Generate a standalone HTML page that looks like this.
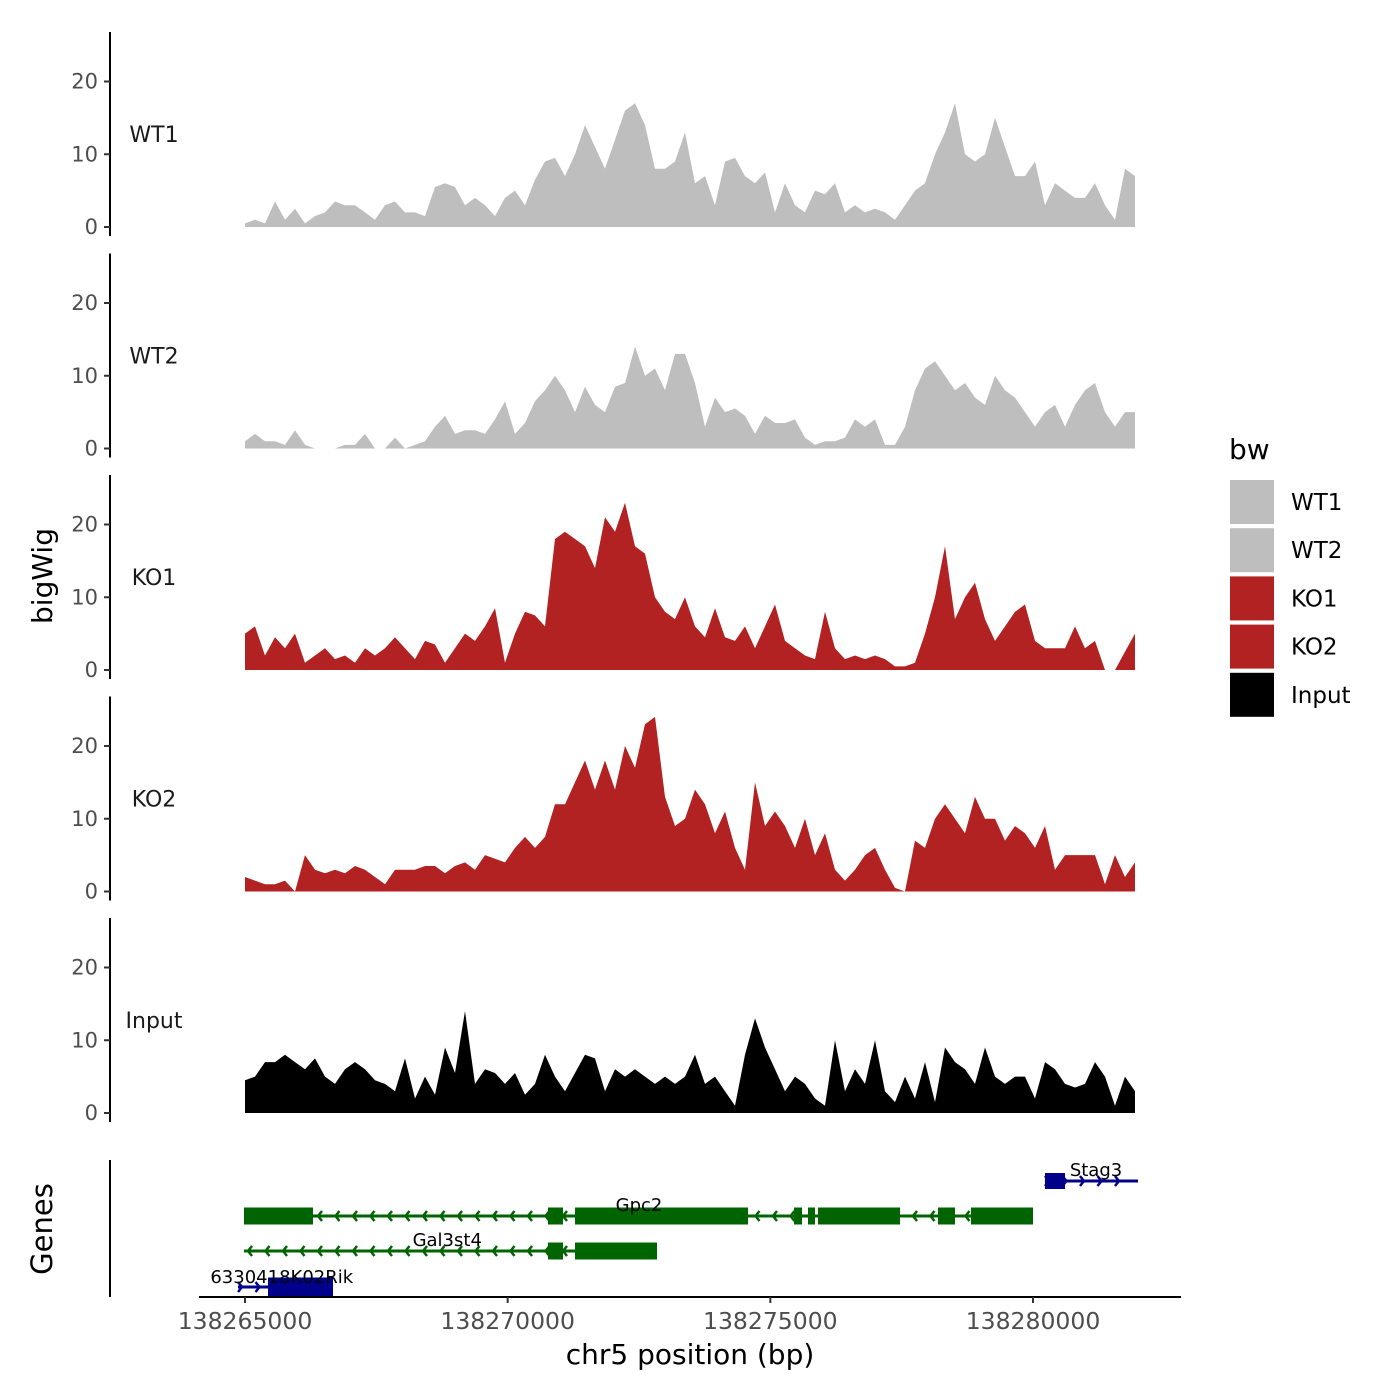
<!DOCTYPE html>
<html><head><meta charset="utf-8"><style>
html,body{margin:0;padding:0;background:#fff;}
svg{display:block;font-family:"DejaVu Sans","Liberation Sans",sans-serif;}
</style></head><body>
<svg id="chart" width="1400" height="1400" viewBox="0 0 1400 1400" xmlns="http://www.w3.org/2000/svg">
<rect width="1400" height="1400" fill="#fff"/>
<g id="tracks"></g>
<g id="genes"></g>
<g id="axes"></g>
<g id="legend"></g>
</svg>
<script>
const startBp = 138265000;
const stepBp = 190.36;
const trackNames = ["WT1","WT2","KO1","KO2","Input"];
const trackColors = ["#bebebe","#bebebe","#b22222","#b22222","#000000"];
const wt1 = [0.5,1,0.5,3.5,1,2.5,0.5,1.5,2,3.5,3,3,2,1,3,3.5,2,2,1.5,5.5,6,5.5,3,4,3,1.5,4,5,3,6.5,9,9.5,7,10,14,11,8,12,16,17,14,8,8,9,13,6,7,3,9,9.5,7,6,7.5,2,6,3,2,5,4.5,6,2,3,2,2.5,2,1,3,5,6,10,13,17,10,9,10,15,11,7,7,9,3,6,5,4,4,6,3,1,8,7];
const wt2 = [1,2,1,1,0.5,2.5,0.5,0,0,0,0.5,0.5,2,0,0,1.5,0,0.5,1,3,4.5,2,2.5,2.5,2,4,6.5,2,3.5,6.5,8,10,8,5,8.5,6,5,8.5,9,14,10,11,8,13,13,9,3,7,5,5.5,4.5,2,4.5,3.5,3.5,4,1.5,0.5,1,1,1.5,4,3,4,0.5,0.5,3,8,11,12,10,8,9,7,6,10,8,7,5,3,5,6,3,6,8,9,5,3,5,5];
const ko1 = [5,6,2,4.5,3,5,1,2,3,1.5,2,1,3,2,3,4.5,3,1.5,4,3.5,1,3,5,4,6,8.5,1,5,8,7.5,6,18,19,18,17,14,21,19,23,17,16,10,8,7,10,6,4.5,8.5,4.5,4,6,3,6,9,4,3,2,1.5,8,3,1.5,2,1.5,2,1.5,0.5,0.5,1,5,10,17,7,10,12,7,4,6,8,9,4,3,3,3,6,3,4,0,0,2.5,5];
const ko2 = [2,1.5,1,1,1.5,0,5,3,2.5,3,2.5,3.5,3,2,1,3,3,3,3.5,3.5,2.5,3.5,4,3,5,4.5,4,6,7.5,6,7.5,12,12,15,18,14,18,14,20,17,23,24,13,9,10,14,12,8,11,6,3,15,9,11,9,6,10,5,8,3,1.5,3,5,6,3,0.5,0,7,6,10,12,10,8,13,10,10,7,9,8,6,9,3,5,5,5,5,1,5,2,4];
const input = [4.5,5,7,7,8,7,6,7.5,5,4,6,7,6,4.5,4,3,7.5,2,5,2.5,9,5.5,14,4,6,5.5,4,5.5,2.5,4,8,5,3,5.5,8,7.5,3,6,5,6,5,4,5,4,5,8,4,5,3,1,8,13,9,6,3,5,4,2,1,10,3,6,4,10,3,1.5,5,2,7,1.5,9,7,6,4,9,5,4,5,5,2,7,6,4,3.5,4,7,5,1,5,3];
const trackData = [wt1,wt2,ko1,ko2,input];
const yTicks = [0,10,20];
const xTicks = [138265000,138270000,138275000,138280000];
const xTickLabels = ["138265000","138270000","138275000","138280000"];
const geneNames = ["Stag3","Gpc2","Gal3st4","6330418K02Rik"];
const geneStrand = [1,-1,-1,1];
const geneColors = ["#00008b","#006400","#006400","#00008b"];
const geneStart = [138280228,138264981,138264981,138264867];
const geneEnd = [138281999,138280000,138272843,138266675];
const geneExons = [
  [[138280228,138280609]],
  [[138264981,138266294],[138270768,138271053],[138271282,138274575],[138275451,138275603],[138275717,138275850],[138275907,138277468],[138278192,138278515],[138278820,138280000]],
  [[138270768,138271053],[138271282,138272843]],
  [[138265438,138266675]]
];
const geneLabelBp = [138281200,138272500,138268850,138265700];

const NS="http://www.w3.org/2000/svg";
function mk(tag,attrs,parent){const e=document.createElementNS(NS,tag);for(const k in attrs)e.setAttribute(k,attrs[k]);parent.appendChild(e);return e;}
const pxPerBp = 788/15000;
function xs(bp){return 245+(bp-startBp)*pxPerBp;}
const zeros=[227,448.5,670,891.5,1113];
const unit=7.275;
function ys(t,v){return zeros[t]-v*unit;}

const tracks=document.getElementById('tracks');
const axes=document.getElementById('axes');
trackData.forEach((arr,t)=>{
  let d="M"+xs(startBp)+","+ys(t,0);
  arr.forEach((v,i)=>{d+=" L"+xs(startBp+i*stepBp).toFixed(1)+","+ys(t,v).toFixed(1);});
  d+=" L"+xs(startBp+(arr.length-1)*stepBp).toFixed(1)+","+ys(t,0)+" Z";
  const p=mk('path',{d:d,fill:trackColors[t]},tracks);
  
  
  const top=zeros[t]-195, bot=zeros[t]+9;
  const ax=mk('line',{x1:110,x2:110,y1:top,y2:bot,stroke:'#000','stroke-width':2},axes);
  
  
  yTicks.forEach(v=>{
    mk('line',{x1:104,x2:110,y1:ys(t,v),y2:ys(t,v),stroke:'#333','stroke-width':2},axes);
    const tl=mk('text',{x:98,y:ys(t,v)+7,'text-anchor':'end','font-size':21,fill:'#4d4d4d'},axes);
    tl.textContent=v;
    
    
  });
  const lb=mk('text',{x:154,y:zeros[t]-85,'text-anchor':'middle','font-size':22,fill:'#1a1a1a'},axes);
  lb.textContent=trackNames[t];
  
  
});

const genes=document.getElementById('genes');
const geneY=[1181,1216,1251,1287];
const exonH=[16,17,17,19];
geneNames.forEach((g,i)=>{
  const grp=mk('g',{},genes);
  
  
  const x1=xs(geneStart[i]),x2=xs(geneEnd[i]),y=geneY[i],c=geneColors[i];
  mk('line',{x1:x1,x2:x2,y1:y,y2:y,stroke:c,'stroke-width':3},grp);
  for(let x=x1+4;x<=x2-2;x+=17.5){
    const s=geneStrand[i];
    mk('polyline',{points:(x-4*s)+","+(y-5)+" "+x+","+y+" "+(x-4*s)+","+(y+5),fill:'none',stroke:c,'stroke-width':2.5},grp);
  }
  geneExons[i].forEach(e=>{
    mk('rect',{x:xs(e[0]),y:y-exonH[i]/2,width:xs(e[1])-xs(e[0]),height:exonH[i],fill:c},grp);
  });
  const t=mk('text',{x:xs(geneLabelBp[i]),y:y-5+(i==3?1:0),'text-anchor':'middle','font-size':18,fill:'#000'},grp);
  t.textContent=g;
  
  
});
const gax=mk('line',{x1:110,x2:110,y1:1160,y2:1297,stroke:'#000','stroke-width':2},axes);


const xax=mk('line',{x1:199,x2:1181,y1:1297,y2:1297,stroke:'#000','stroke-width':2},axes);


xTicks.forEach((v,i)=>{
  mk('line',{x1:xs(v),x2:xs(v),y1:1297,y2:1303,stroke:'#333','stroke-width':2},axes);
  const t=mk('text',{x:xs(v),y:1329,'text-anchor':'middle','font-size':23.5,fill:'#4d4d4d'},axes);
  t.textContent=xTickLabels[i];
  
  
});
const xt=mk('text',{x:690,y:1364,'text-anchor':'middle','font-size':28,fill:'#000'},axes);
xt.textContent="chr5 position (bp)";


const yt=mk('text',{x:0,y:0,'text-anchor':'middle','font-size':28,fill:'#000',transform:'translate(52,576) rotate(-90)'},axes);
yt.textContent="bigWig";


const gt=mk('text',{x:0,y:0,'text-anchor':'middle','font-size':29,fill:'#000',transform:'translate(52,1229) rotate(-90)'},axes);
gt.textContent="Genes";



const legend=document.getElementById('legend');
const lt=mk('text',{x:1229,y:459,'font-size':28,fill:'#000'},legend);
lt.textContent="bw";


trackNames.forEach((n,i)=>{
  const y0=480+i*48.2;
  const r=mk('rect',{x:1230,y:y0,width:44,height:44,fill:trackColors[i]},legend);
  
  
  const t=mk('text',{x:1291,y:y0+30,'font-size':23,fill:'#000'},legend);
  t.textContent=n;
  
  
});
</script>
</body></html>
